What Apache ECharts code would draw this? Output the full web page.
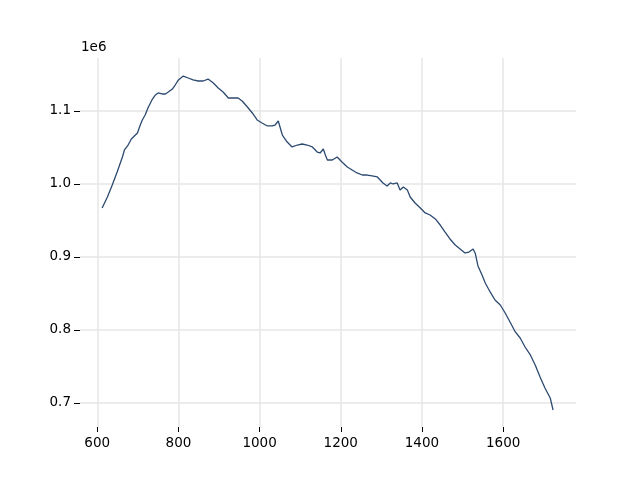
<!DOCTYPE html>
<html>
<head>
<meta charset="utf-8">
<script src="https://cdn.jsdelivr.net/npm/echarts@6/dist/echarts.min.js"></script>
<style>html,body{margin:0;padding:0;background:#fff}#c{width:640px;height:480px}</style>
</head>
<body>
<div id="c"></div>
<script>
const xValues = [612,625,637,649,662,667,676,684,686,699,706,711,718,726,736,743,750,760,768,775,785,792,800,812,824,836,849,861,873,886,898,910,923,935,947,957,970,982,994,1006,1019,1031,1038,1046,1051,1056,1068,1080,1093,1105,1117,1130,1142,1149,1157,1162,1167,1179,1191,1203,1216,1228,1240,1253,1265,1277,1290,1297,1304,1314,1322,1329,1339,1346,1354,1364,1371,1383,1396,1408,1420,1433,1445,1457,1469,1482,1494,1506,1516,1526,1531,1538,1548,1556,1568,1580,1593,1605,1617,1630,1642,1654,1667,1679,1691,1703,1716,1723];
const yValues = [967100,982200,998600,1016400,1037000,1046600,1053400,1061600,1058900,1069900,1080800,1087700,1094500,1105500,1116400,1121900,1124700,1123300,1123300,1126000,1130100,1135600,1142500,1147900,1145200,1142500,1141100,1141100,1143800,1138400,1131500,1126000,1117800,1117800,1117800,1113700,1105500,1097300,1087700,1083600,1079500,1079500,1080800,1086300,1076700,1067100,1057500,1050700,1053400,1054800,1053400,1050700,1043800,1042500,1047900,1039700,1032900,1032900,1037000,1030100,1023300,1019200,1015100,1012300,1012300,1011000,1009600,1005500,1001400,997300,1001400,1000000,1001400,991800,995900,991800,982200,974000,967100,960300,957500,952100,943800,934200,924700,916400,911000,905500,906800,911000,905500,887700,875300,864400,852100,841100,834200,823300,811000,797300,789000,776700,765800,752100,735600,720500,706800,690400];
const xTicks = [600,800,1000,1200,1400,1600];
const yTicks = [700000,800000,900000,1000000,1100000];

const chart = echarts.init(document.getElementById('c'), null, {renderer:'canvas'});
const font = 'DejaVu Sans';
const data = xValues.map((x,i)=>[x,yValues[i]]);
chart.setOption({
  animation:false,
  backgroundColor:'#fff',
  grid:{left:80,right:64,top:58,bottom:53,containLabel:false},
  xAxis:{
    type:'value', min:557.5, max:1779.5,
    axisLine:{show:false},
    axisTick:{show:true,length:5,lineStyle:{color:'#000',width:1},customValues:xTicks},
    axisLabel:{customValues:xTicks,color:'#000',fontFamily:font,fontSize:13.5,margin:9,
      formatter:v=>String(v)},
    splitLine:{show:true,lineStyle:{color:'#e6e6e6',width:1.5}}
  },
  yAxis:{
    type:'value', min:667100, max:1172600,
    axisLine:{show:false},
    axisTick:{show:true,length:6,lineStyle:{color:'#000',width:1},customValues:yTicks},
    axisLabel:{customValues:yTicks,color:'#000',fontFamily:font,fontSize:13.5,margin:9,
      formatter:v=>(v/1e6).toFixed(1)},
    splitLine:{show:true,lineStyle:{color:'#e6e6e6',width:1.5}}
  },
  graphic:[{type:'text',left:81,top:40,style:{text:'1e6',fill:'#000',font:'13.5px "DejaVu Sans"'}}],
  series:[{type:'line',data:data,showSymbol:false,symbol:'none',
    lineStyle:{color:'#2c4a70',width:1.3},z:3}]
});
</script>
</body>
</html>
